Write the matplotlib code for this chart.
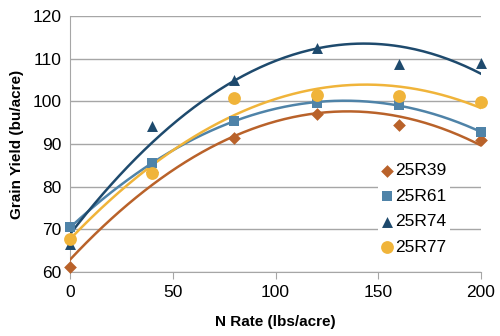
import matplotlib
matplotlib.use("Agg")
import matplotlib.pyplot as plt
import numpy as np

plt.rcParams['font.family'] = ['Liberation Sans', 'DejaVu Sans']

# N rate (lbs/acre) and grain yield (bu/acre) per hybrid
n_rate = [0, 40, 80, 120, 160, 200]
yield_25r39 = [61.3, 83.4, 91.5, 97.0, 94.5, 91.0]
yield_25r61 = [70.5, 85.5, 95.5, 99.7, 99.2, 92.8]
yield_25r74 = [66.5, 94.3, 105.0, 112.5, 108.7, 109.0]
yield_25r77 = [67.7, 83.3, 100.9, 101.5, 101.3, 99.8]

labels = ['25R39', '25R61', '25R74', '25R77']
colors = ['#B9622A', '#4F83A8', '#1E4A6D', '#F0B43A']
markers = ['D', 's', '^', 'o']
sizes = [42, 50, 62, 85]
series = [yield_25r39, yield_25r61, yield_25r74, yield_25r77]

fig = plt.figure(figsize=(5, 3.36), dpi=100)
ax = fig.add_axes([0.14, 0.19, 0.822, 0.762])

xx = np.linspace(0, 200, 200)
for y, lab, c, m, s in zip(series, labels, colors, markers, sizes):
    # second-order trendline
    coef = np.polyfit(n_rate, y, 2)
    ax.plot(xx, np.polyval(coef, xx), color=c, lw=1.8, zorder=3)
    ax.scatter(n_rate, y, marker=m, s=s, color=c, label=lab, zorder=4,
               linewidths=0, clip_on=False)

ax.set_xlim(0, 200)
ax.set_ylim(60, 120)
ax.set_xticks([0, 50, 100, 150, 200])
ax.set_yticks(range(60, 121, 10))
ax.yaxis.grid(True, color='#A6A6A6', lw=1)
ax.set_axisbelow(True)
for side in ['top', 'right']:
    ax.spines[side].set_visible(False)
for side in ['left', 'bottom']:
    ax.spines[side].set_color('#A6A6A6')
ax.tick_params(axis='y', length=0, labelsize=12.5, pad=6)
ax.tick_params(axis='x', length=5, color='#A6A6A6', labelsize=12.5, pad=4)

ax.set_xlabel('N Rate (lbs/acre)', fontsize=11, fontweight='bold', labelpad=11)
ax.set_ylabel('Grain Yield (bu/acre)', fontsize=11, fontweight='bold', labelpad=6)

leg = ax.legend(loc='lower right', bbox_to_anchor=(0.945, 0.02), frameon=True,
                fontsize=12.5, handletextpad=0.15, labelspacing=0.6,
                borderpad=0.2, handlelength=0.6, scatterpoints=1)
leg.get_frame().set_edgecolor('none')
leg.get_frame().set_facecolor('white')
leg.get_frame().set_alpha(1)
leg.set_zorder(5)

fig.savefig('out.png', dpi=100)
